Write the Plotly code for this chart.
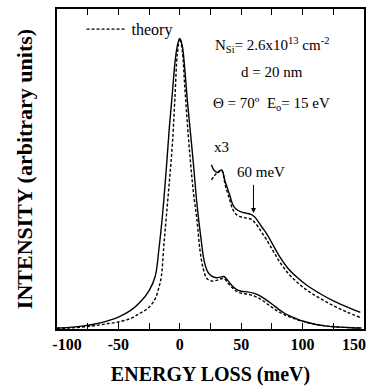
import plotly.graph_objects as go

# ---- data ----
energy_main = [-100, -90, -80, -70, -60, -50, -40, -32, -25, -20, -17, -14, -11, -8.5, -6, -4, -2, 0,
               2, 4, 6, 8.5, 11, 14, 17, 20, 23, 26, 30, 33, 36, 39, 42, 46, 50, 55, 60, 65, 70, 75,
               80, 85, 90, 95, 100, 110, 120, 130, 140, 148]
exp_main = [0.003, 0.005, 0.009, 0.015, 0.024, 0.037, 0.058, 0.085, 0.12, 0.165, 0.25, 0.36, 0.50, 0.63,
            0.74, 0.83, 0.885, 0.908, 0.885, 0.815, 0.72, 0.62, 0.52, 0.39, 0.29, 0.21, 0.177, 0.165,
            0.16, 0.162, 0.164, 0.152, 0.138, 0.124, 0.118, 0.116, 0.112, 0.104, 0.092, 0.078, 0.063,
            0.05, 0.04, 0.032, 0.025, 0.015, 0.009, 0.006, 0.004, 0.003]

energy_theory = [-100, -90, -80, -70, -60, -50, -40, -32, -25, -20, -17, -15, -13, -11, -8.5, -6, -4, -2, 0,
                 2, 4, 6, 8.5, 11, 14, 16.3, 19, 22, 26, 30, 33, 36, 39, 42, 46, 50, 55, 60, 65, 70, 75,
                 80, 85, 90, 95, 100, 110, 120, 130, 140, 148]
theory_main = [0.002, 0.003, 0.006, 0.010, 0.016, 0.022, 0.033, 0.05, 0.068, 0.095, 0.13, 0.165, 0.26, 0.35,
               0.46, 0.58, 0.72, 0.86, 0.908, 0.87, 0.76, 0.65, 0.53, 0.43, 0.34, 0.25, 0.19, 0.158, 0.15,
               0.152, 0.156, 0.158, 0.145, 0.132, 0.118, 0.112, 0.109, 0.104, 0.095, 0.082, 0.068, 0.055,
               0.045, 0.037, 0.030, 0.024, 0.015, 0.009, 0.006, 0.004, 0.003]

energy_x3 = [25.8, 28, 31, 34, 37, 40.7, 43, 46, 50, 54, 58, 61, 64, 67, 70.5, 76, 81.3, 88, 95, 104,
             114, 125, 135.5, 147]
exp_x3 = [0.513, 0.495, 0.489, 0.497, 0.46, 0.418, 0.39, 0.374, 0.366, 0.362, 0.358, 0.35, 0.335, 0.318,
          0.299, 0.262, 0.226, 0.19, 0.163, 0.135, 0.111, 0.088, 0.07, 0.052]
theory_x3 = [0.466, 0.478, 0.49, 0.497, 0.45, 0.403, 0.375, 0.358, 0.350, 0.347, 0.343, 0.333, 0.318,
             0.300, 0.28, 0.244, 0.21, 0.175, 0.148, 0.12, 0.096, 0.073, 0.054, 0.036]

tick_vals = [-100, -75, -50, -25, 0, 25, 50, 75, 100, 125, 150]
tick_text = ["\u2003\u00a0-100", "", "-50", "", "0", "", "50", "", "100", "", "150\u2003\u00a0"]

serif = "Liberation Serif"
solid = dict(color="black", width=1.4)
dashed = dict(color="black", width=1.4, dash="3px,2px")

fig = go.Figure()
fig.add_trace(go.Scatter(x=energy_main, y=exp_main, mode="lines", line=solid,
                         line_shape="spline", showlegend=False))
fig.add_trace(go.Scatter(x=energy_theory, y=theory_main, mode="lines", line=dashed,
                         line_shape="spline", name="theory", showlegend=True))
fig.add_trace(go.Scatter(x=energy_x3, y=exp_x3, mode="lines", line=solid,
                         line_shape="spline", showlegend=False))
fig.add_trace(go.Scatter(x=energy_x3, y=theory_x3, mode="lines", line=dashed,
                         line_shape="spline", showlegend=False))

fig.update_layout(
    width=368, height=386,
    margin=dict(l=57, r=4, t=9, b=57),
    paper_bgcolor="white", plot_bgcolor="white",
    font=dict(family=serif, color="black", size=14),
    legend=dict(x=0.08, y=0.99, xanchor="left", yanchor="top", bgcolor="rgba(0,0,0,0)",
                font=dict(family=serif, size=16), itemwidth=40),
    xaxis=dict(range=[-100, 150], tickvals=tick_vals, ticktext=tick_text,
               ticks="inside", ticklen=6, tickwidth=1, tickcolor="black",
               showline=True, linecolor="black", linewidth=1.6, mirror="ticks",
               showgrid=False, zeroline=False, ticklabeloverflow="allow", automargin=False,
               tickfont=dict(family=serif, size=16, weight="bold"),
               title=dict(text="ENERGY LOSS (meV)", standoff=22,
                          font=dict(family=serif, size=20, weight="bold"))),
    yaxis=dict(range=[0, 1], showticklabels=False, ticks="", automargin=False,
               showline=True, linecolor="black", linewidth=1.6, mirror=True,
               showgrid=False, zeroline=False,
               title=dict(text="INTENSITY (arbitrary units)", standoff=17,
                          font=dict(family=serif, size=22, weight="bold"))),
)

ann_font = dict(family=serif, size=15, color="black")
fig.add_annotation(x=0.70, y=0.926, xref="paper", yref="paper", xanchor="center", showarrow=False,
                   text="N<sub>Si</sub>= 2.6x10<sup>13</sup> cm<sup>-2</sup>", font=ann_font)
fig.add_annotation(x=0.70, y=0.833, xref="paper", yref="paper", xanchor="center", showarrow=False,
                   text="d = 20 nm", font=ann_font)
fig.add_annotation(x=0.70, y=0.739, xref="paper", yref="paper", xanchor="center", showarrow=False,
                   text="Θ = 70º  E<sub>o</sub>= 15 eV", font=ann_font)
fig.add_annotation(x=34, y=0.57, xref="x", yref="y", xanchor="center", showarrow=False,
                   text="x3", font=ann_font)
fig.add_annotation(x=60, y=0.3625, xref="x", yref="y", ax=60, ay=0.455, axref="x", ayref="y",
                   showarrow=True, arrowhead=2, arrowsize=1, arrowwidth=1, arrowcolor="black",
                   text="")
fig.add_annotation(x=66, y=0.49, xref="x", yref="y", xanchor="center", showarrow=False,
                   text="60 meV", font=ann_font)

fig.write_html("out.html")
